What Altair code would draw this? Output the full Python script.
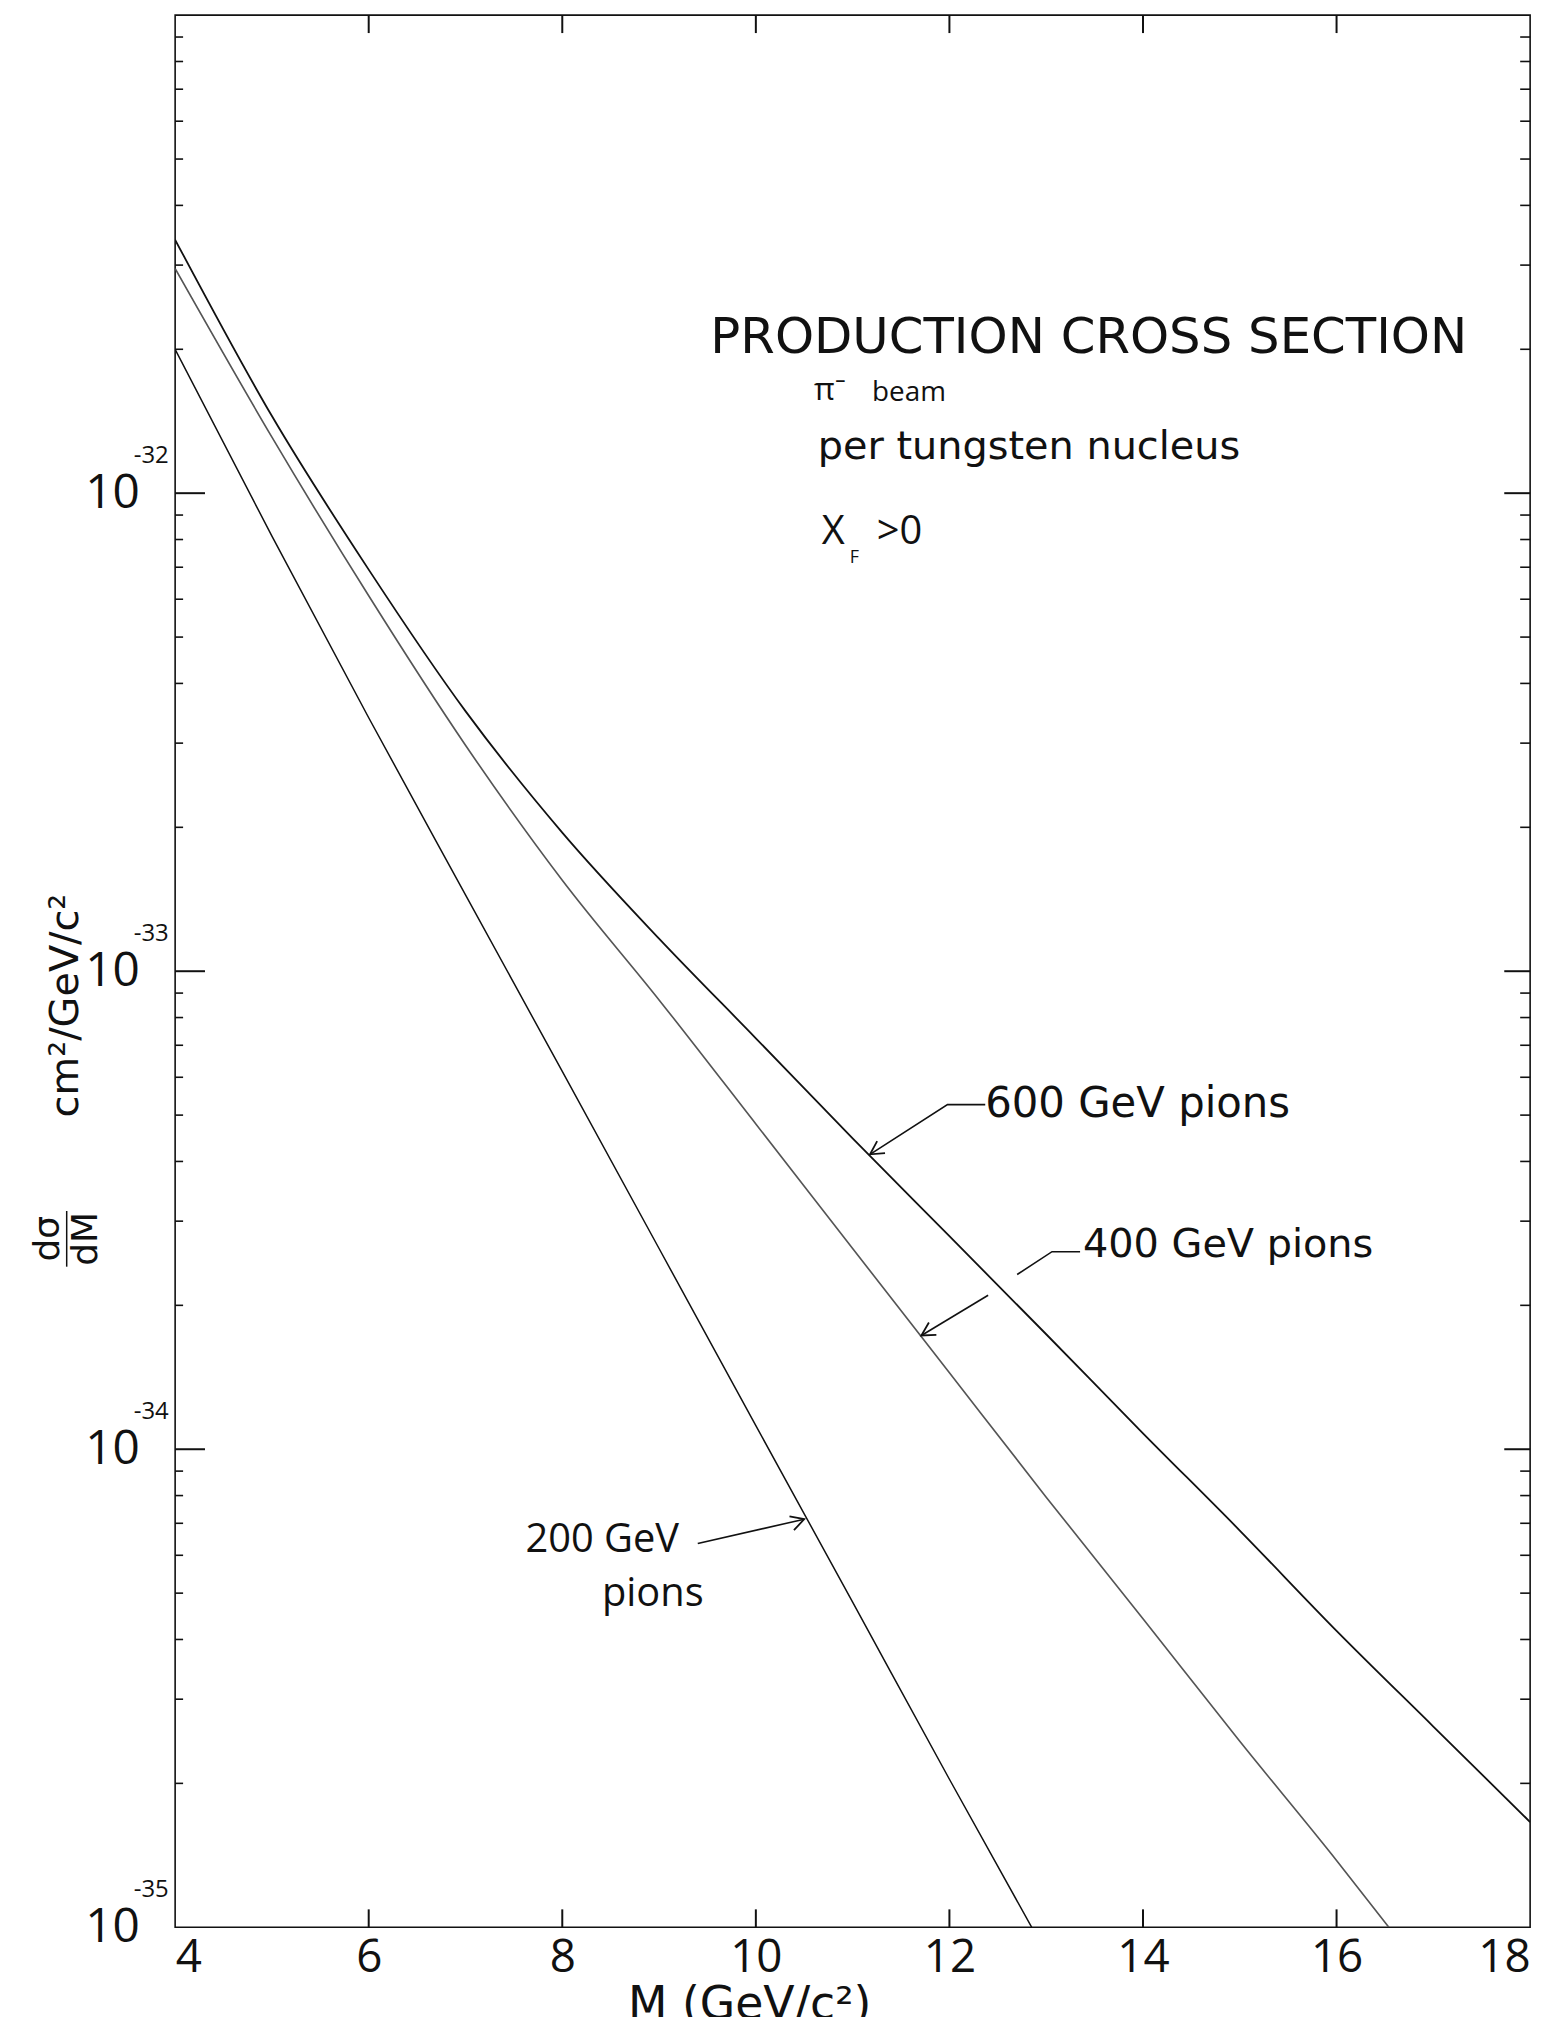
import altair as alt
import pandas as pd

# ---- data (M in GeV/c^2, dsigma/dM in cm^2/GeV/c^2) ----
M_600 = [4, 5, 6, 7, 8, 9, 10, 11, 12, 13, 14, 15, 16, 17, 18]
S_600 = [3.39e-32, 1.45e-32, 6.92e-33, 3.50e-33, 1.95e-33, 1.17e-33, 7.24e-34,
         4.47e-34, 2.79e-34, 1.74e-34, 1.08e-34, 6.76e-35, 4.17e-35, 2.63e-35, 1.66e-35]

M_400 = [4, 5, 6, 7, 8, 9, 10, 11, 12, 13, 14, 15, 16, 16.54]
S_400 = [2.95e-32, 1.31e-32, 6.10e-33, 2.97e-33, 1.55e-33, 8.71e-34, 4.79e-34,
         2.63e-34, 1.445e-34, 7.94e-35, 4.42e-35, 2.45e-35, 1.38e-35, 1.0e-35]

M_200 = [4, 5, 6, 7, 8, 9, 10, 11, 12, 12.85]
S_200 = [2.0e-32, 8.13e-33, 3.39e-33, 1.445e-33, 6.17e-34, 2.63e-34, 1.12e-34,
         4.79e-35, 2.04e-35, 1.0e-35]

X_TICKS = [4, 6, 8, 10, 12, 14, 16, 18]
X_INNER_TICKS = [6, 8, 10, 12, 14, 16]
Y_DECADES = [1e-35, 1e-34, 1e-33, 1e-32]
Y_EXPONENTS = ["-35", "-34", "-33", "-32"]
Y_MINOR = [k * d for d in [1e-35, 1e-34, 1e-33, 1e-32] for k in range(2, 10)]

# wide lettering (DejaVu Sans)
WIDE_TEXT = ["PRODUCTION  CROSS  SECTION", "per tungsten  nucleus", "600 GeV  pions", "400 GeV  pions"]
WIDE_M = [9.53, 10.64, 12.37, 13.38]
WIDE_S = [2.11e-32, 1.25e-32, 5.28e-34, 2.67e-34]
WIDE_SIZE = [50, 40, 42, 40]

# other lettering (Open Sans)
ANN_TEXT = ["π⁻", "beam", "X", "F", ">0", "200 GeV", "pions"]
ANN_M = [10.6, 11.2, 10.68, 10.97, 11.25, 7.62, 8.41]
ANN_S = [1.64e-32, 1.62e-32, 8.3e-33, 7.3e-33, 8.3e-33, 6.45e-35, 4.98e-35]
ANN_SIZE = [32, 28, 40, 18, 40, 40, 40]

# arrows: (segment id, M, sigma)
ARROW_SEG = ["a600", "a600", "a600", "a400a", "a400a", "a400a", "a400b", "a400b", "a200", "a200"]
ARROW_M = [12.37, 11.98, 11.18, 13.35, 13.06, 12.70, 12.40, 11.71, 9.40, 10.5]
ARROW_S = [5.26e-34, 5.26e-34, 4.14e-34, 2.59e-34, 2.59e-34, 2.32e-34, 2.10e-34, 1.73e-34, 6.35e-35, 7.14e-35]
HEAD_M = [11.18, 11.71, 10.5]
HEAD_S = [4.14e-34, 1.73e-34, 7.14e-35]
HEAD_ANGLE = [237, 239, 72]

W, H = 1362, 1922
FONT = "Open Sans"
WIDE = "DejaVu Sans"
INK = "#111111"

curves = pd.concat([
    pd.DataFrame({"M": M_600, "sigma": S_600, "beam": "600 GeV"}),
    pd.DataFrame({"M": M_400, "sigma": S_400, "beam": "400 GeV"}),
    pd.DataFrame({"M": M_200, "sigma": S_200, "beam": "200 GeV"}),
])

xscale = alt.Scale(domain=[4, 18], nice=False, zero=False)
yscale = alt.Scale(type="log", domain=[1e-35, 1e-31], nice=False)

xaxis = alt.Axis(values=X_TICKS, title="M (GeV/c²)", ticks=False, domain=False, grid=False,
                 labelFontSize=46, labelPadding=8, labelFont=FONT, labelColor=INK,
                 titleFontSize=46, titleFont=WIDE, titleColor=INK, titleFontWeight="normal",
                 titleX=577, titleY=78, titleBaseline="middle", titleAlign="center")
yaxis = alt.Axis(values=Y_DECADES, labelExpr="'10'", title="cm²/GeV/c²",
                 ticks=False, domain=False, grid=False,
                 labelFontSize=48, labelPadding=36, labelFont=FONT, labelColor=INK,
                 titleFontSize=40, titleFont=WIDE, titleColor=INK, titleFontWeight="normal",
                 titleAngle=270, titleX=-110, titleY=995, titleAlign="center",
                 titleBaseline="middle")

X = alt.X("M:Q", scale=xscale, axis=xaxis)
Y = alt.Y("sigma:Q", scale=yscale, axis=yaxis)

lines = alt.Chart(curves).mark_line(interpolate="monotone", clip=True).encode(
    x=X, y=Y, detail="beam:N",
    color=alt.Color("beam:N", scale=alt.Scale(domain=["600 GeV", "400 GeV", "200 GeV"],
                                              range=["#111111", "#555555", "#111111"]), legend=None),
    strokeWidth=alt.StrokeWidth("beam:N", scale=alt.Scale(domain=["600 GeV", "400 GeV", "200 GeV"],
                                                          range=[1.8, 1.5, 1.8]), legend=None),
)

xt = pd.DataFrame({"M": X_INNER_TICKS})
bottom_ticks = alt.Chart(xt).mark_rule(color=INK, strokeWidth=2).encode(
    x=X, y=alt.value(H), y2=alt.value(H - 18))
top_ticks = alt.Chart(xt).mark_rule(color=INK, strokeWidth=2).encode(
    x=X, y=alt.value(0), y2=alt.value(18))

yd = pd.DataFrame({"sigma": Y_DECADES[1:]})
left_major = alt.Chart(yd).mark_rule(color=INK, strokeWidth=2).encode(
    y=Y, x=alt.value(0), x2=alt.value(30))
right_major = alt.Chart(yd).mark_rule(color=INK, strokeWidth=2).encode(
    y=Y, x=alt.value(W), x2=alt.value(W - 26))
ym = pd.DataFrame({"sigma": Y_MINOR})
left_minor = alt.Chart(ym).mark_rule(color=INK, strokeWidth=1.6).encode(
    y=Y, x=alt.value(0), x2=alt.value(8))
right_minor = alt.Chart(ym).mark_rule(color=INK, strokeWidth=1.6).encode(
    y=Y, x=alt.value(W), x2=alt.value(W - 10))

exps = pd.DataFrame({"sigma": Y_DECADES, "e": Y_EXPONENTS})
exp_text = alt.Chart(exps).mark_text(font=FONT, fontSize=24, color=INK, align="center",
                                     baseline="middle", dy=-37).encode(
    y=Y, x=alt.value(-24), text="e:N")

# y-axis quantity dσ/dM written as a stacked fraction (rotated like the axis title)
frac = pd.DataFrame({"t": ["dσ", "dM"], "px": [-128, -90]})
frac_text = alt.Chart(frac).mark_text(font=WIDE, fontSize=36, color=INK, angle=270,
                                      align="center", baseline="middle").encode(
    x=alt.X("px:Q", scale=None), y=alt.value(1230), text="t:N")
frac_bar = alt.Chart(pd.DataFrame({"k": [0]})).mark_rule(color=INK, strokeWidth=1.5).encode(
    x=alt.value(-109), y=alt.value(1202), y2=alt.value(1258))

wide = pd.DataFrame({"M": WIDE_M, "sigma": WIDE_S, "t": WIDE_TEXT, "fs": WIDE_SIZE})
wide_text = alt.Chart(wide).mark_text(font=WIDE, color=INK, align="left", baseline="middle").encode(
    x=X, y=Y, text="t:N", size=alt.Size("fs:Q", scale=None, legend=None))

ann = pd.DataFrame({"M": ANN_M, "sigma": ANN_S, "t": ANN_TEXT, "fs": ANN_SIZE})
ann_text = alt.Chart(ann).mark_text(font=FONT, color=INK, align="left", baseline="middle").encode(
    x=X, y=Y, text="t:N", size=alt.Size("fs:Q", scale=None, legend=None))

arr = pd.DataFrame({"seg": ARROW_SEG, "M": ARROW_M, "sigma": ARROW_S,
                    "o": list(range(len(ARROW_M)))})
arrows = alt.Chart(arr).mark_line(color=INK, strokeWidth=1.6).encode(
    x=X, y=Y, detail="seg:N", order="o:Q")

heads = pd.DataFrame({"M": HEAD_M, "sigma": HEAD_S, "ang": HEAD_ANGLE})
arrow_heads = alt.Chart(heads).mark_point(
    shape="M-0.55,1L0,0L0.55,1", filled=False, color=INK, strokeWidth=1.8, size=700, opacity=1
).encode(x=X, y=Y, angle=alt.Angle("ang:Q", scale=None))

chart = alt.layer(
    lines, bottom_ticks, top_ticks, left_major, right_major, left_minor, right_minor,
    exp_text, frac_text, frac_bar, wide_text, ann_text, arrows, arrow_heads
).properties(
    width=W, height=H,
    autosize=alt.AutoSizeParams(type="none"),
    padding={"left": 168, "top": 2, "right": 25, "bottom": 85},
    background="white",
).configure_view(stroke="#111111", strokeWidth=1.6)

chart.save("out.html", embed_options={"renderer": "svg", "actions": False})
